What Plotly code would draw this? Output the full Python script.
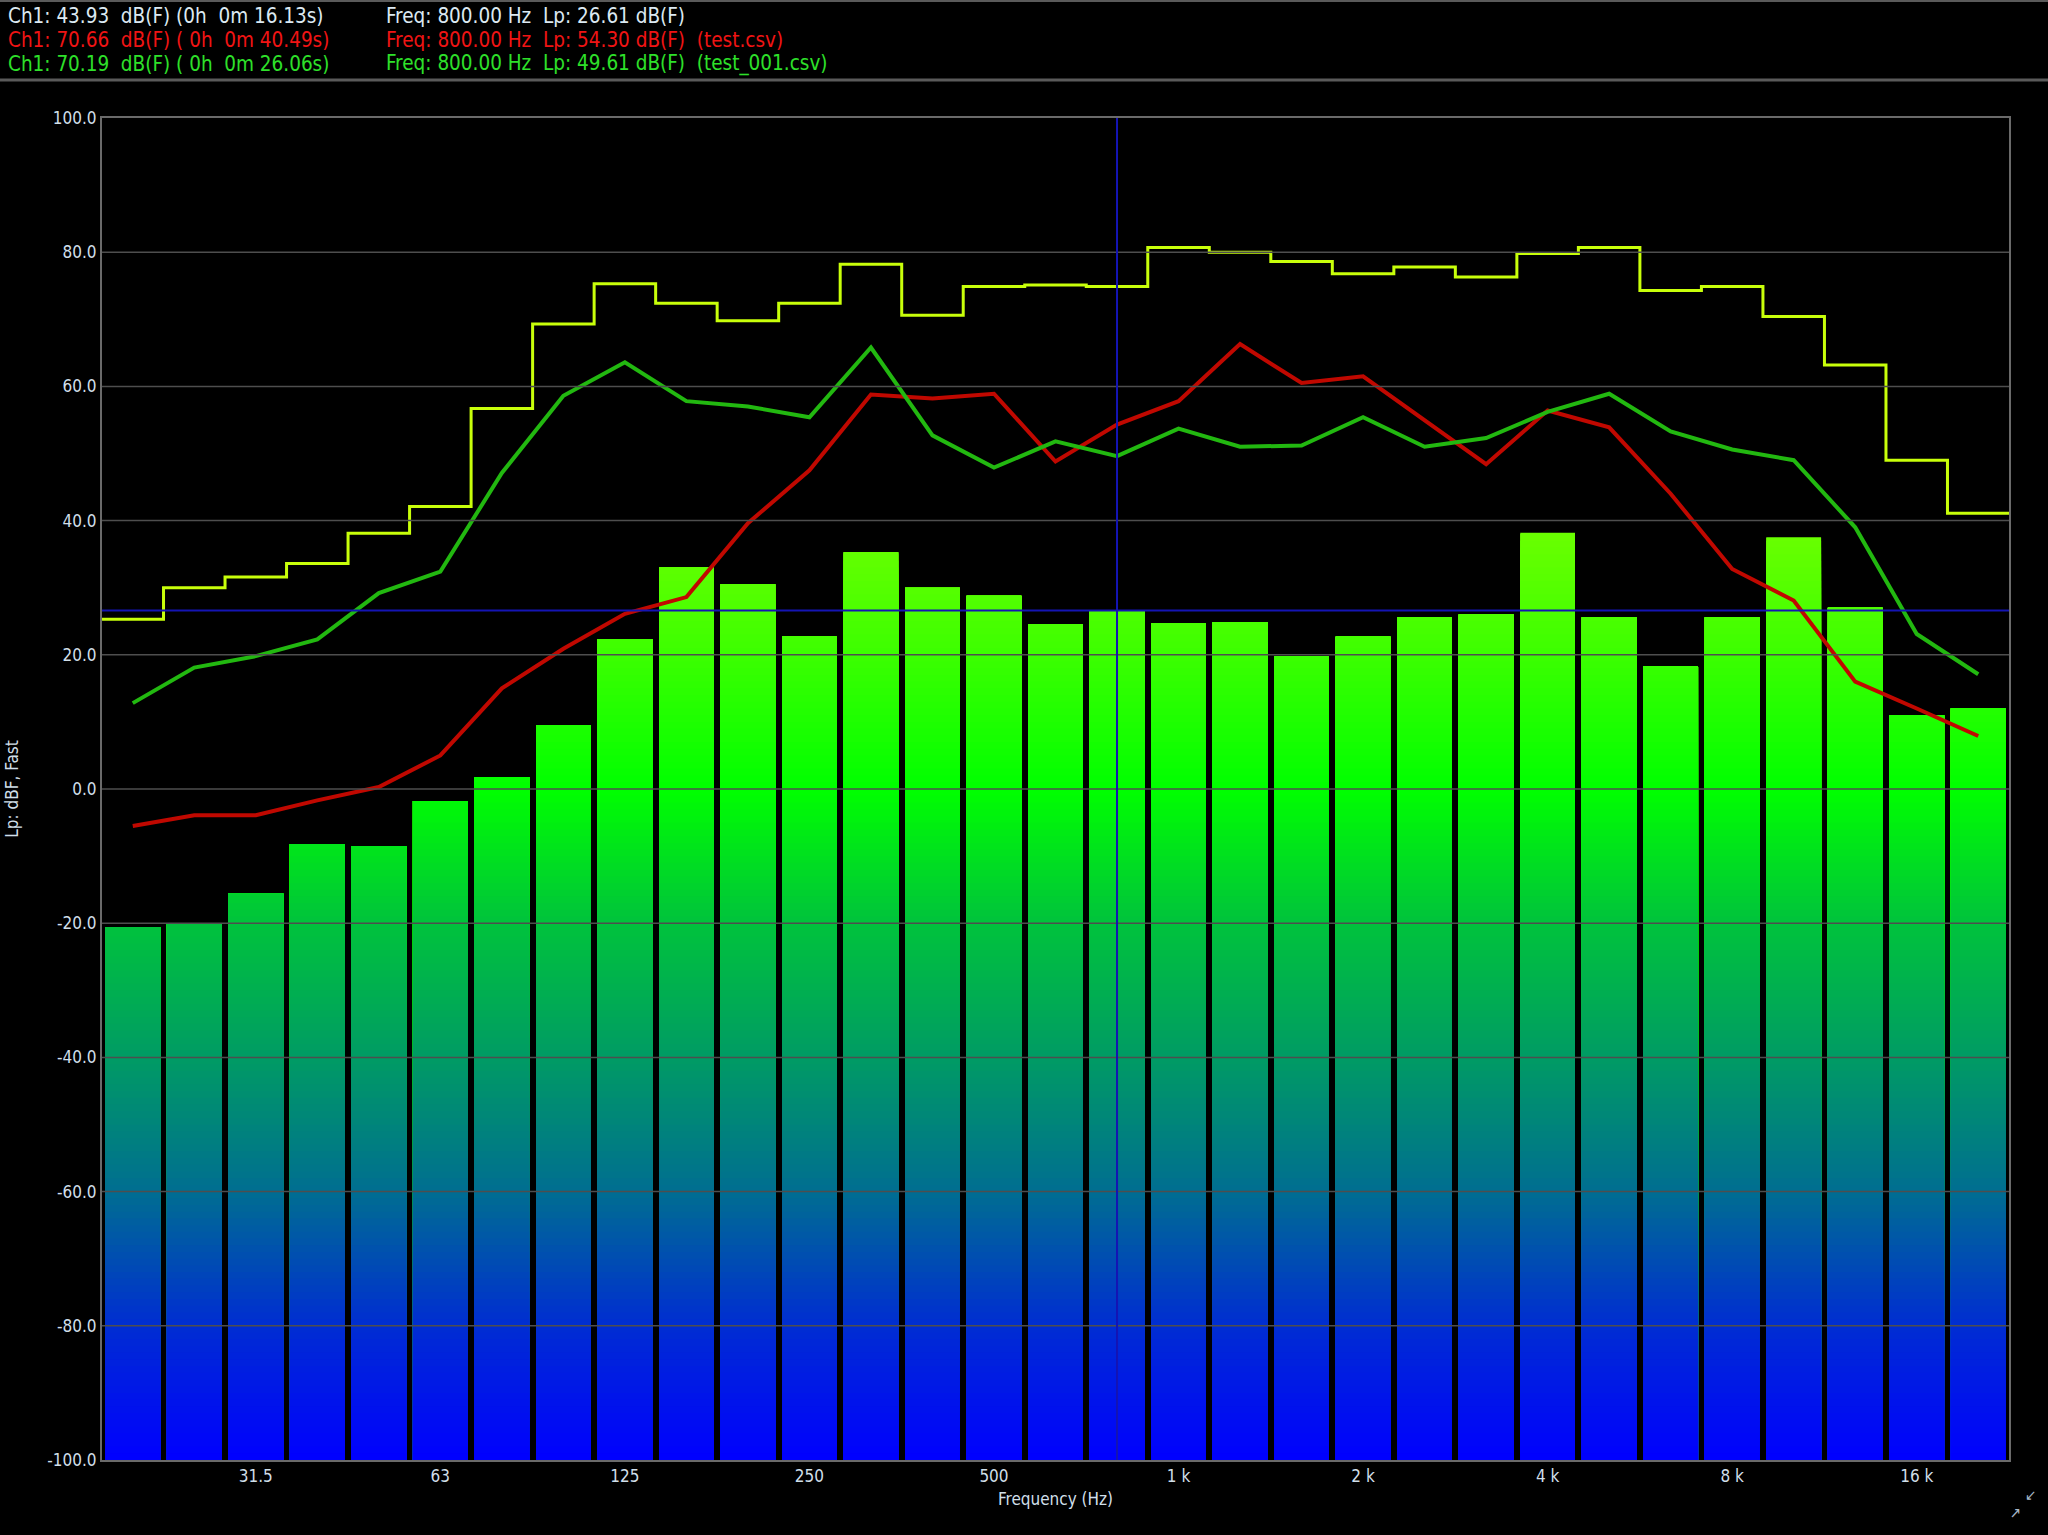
import plotly.graph_objects as go
from plotly.colors import sample_colorscale

# Bandas de tercio de octava (Hz)
bandas = [20, 25, 31.5, 40, 50, 63, 80, 100, 125, 160, 200, 250, 315, 400, 500, 630,
          800, 1000, 1250, 1600, 2000, 2500, 3150, 4000, 5000, 6300, 8000, 10000,
          12500, 16000, 20000]

# Nivel actual Lp dB(F) (barras)
nivel_actual = [-20.6, -20.1, -15.6, -8.2, -8.5, -1.8, 1.8, 9.5, 22.3, 33.0, 30.5, 22.7,
                35.3, 30.0, 28.8, 24.6, 26.61, 24.7, 24.9, 19.8, 22.7, 25.6, 26.0, 38.2,
                25.6, 18.3, 25.6, 37.5, 27.0, 11.0, 12.0]

# Máximos (línea amarilla en escalones)
maximos = [25.3, 30.0, 31.6, 33.6, 38.1, 42.1, 56.7, 69.3, 75.3, 72.4, 69.8, 72.4, 78.2,
           70.6, 74.9, 75.1, 74.9, 80.7, 80.0, 78.6, 76.8, 77.8, 76.3, 79.8, 80.7, 74.3,
           74.9, 70.4, 63.2, 49.0, 41.1]

# test.csv (rojo)
test = [-5.5, -3.9, -3.9, -1.7, 0.3, 5.0, 15.0, 20.9, 26.1, 28.6, 39.6, 47.5, 58.8, 58.2,
        58.9, 48.8, 54.30, 57.8, 66.3, 60.5, 61.5, 54.9, 48.4, 56.4, 53.9, 44.0, 32.8, 28.1,
        16.0, 12.0, 7.9]

# test_001.csv (verde)
test_001 = [12.8, 18.1, 19.8, 22.3, 29.2, 32.4, 47.1, 58.6, 63.6, 57.8, 57.0, 55.4, 65.8,
            52.7, 47.9, 51.8, 49.61, 53.7, 51.0, 51.2, 55.4, 51.0, 52.3, 56.2, 58.9, 53.3,
            50.6, 49.0, 39.0, 23.1, 17.1]

# Cursor
cursor_freq = 800
cursor_lp = 26.61

# Cabecera
cabecera = [
    ("Ch1: 43.93  dB(F) (0h  0m 16.13s)", "Freq: 800.00 Hz  Lp: 26.61 dB(F)", "#dce9f2"),
    ("Ch1: 70.66  dB(F) ( 0h  0m 40.49s)", "Freq: 800.00 Hz  Lp: 54.30 dB(F)  (test.csv)", "#f01414"),
    ("Ch1: 70.19  dB(F) ( 0h  0m 26.06s)", "Freq: 800.00 Hz  Lp: 49.61 dB(F)  (test_001.csv)", "#2ee02a"),
]

W, H = 2048, 1535
L, R, T, B = 102, 39, 118, 75
PW, PH = W - L - R, H - T - B
FUENTE = "Liberation Sans Narrow, DejaVu Sans Condensed, Liberation Sans, sans-serif"
Y_MIN, Y_MAX = -100, 100

# Escala de color de las barras según el nivel
escala = [
    [0.0, "rgb(0,0,255)"],
    [0.2 / 1.4, "rgb(0,45,210)"],
    [0.4 / 1.4, "rgb(0,110,145)"],
    [0.6 / 1.4, "rgb(0,155,100)"],
    [0.8 / 1.4, "rgb(0,195,60)"],
    [1.0 / 1.4, "rgb(0,255,0)"],
    [1.2 / 1.4, "rgb(60,255,0)"],
    [1.0, "rgb(110,255,0)"],
]


def px_x(px):
    return (px - L) / PW


def px_y(py):
    return 1 - (py - T) / PH


def formato_freq(f):
    return f"{f / 1000:g} k" if f >= 1000 else f"{f:g}"


idx = list(range(len(bandas)))
fig = go.Figure()

# Barras con degradado: se superponen barras cada vez más bajas
tope = int(max(nivel_actual)) + 1
for nivel in range(tope, Y_MIN, -1):
    color = sample_colorscale(escala, [(nivel - 0.5 - Y_MIN) / 140])[0]
    fig.add_trace(go.Bar(
        x=idx,
        y=[max(min(v, nivel) - Y_MIN, 0) for v in nivel_actual],
        base=Y_MIN,
        marker=dict(color=color, line=dict(width=0)),
        hoverinfo="skip",
        showlegend=False,
    ))

# Máximos en escalones (bordes de banda)
fig.add_trace(go.Scatter(
    x=[i - 0.5 for i in idx] + [idx[-1] + 0.5],
    y=maximos + [maximos[-1]],
    mode="lines", line=dict(color="#c8ff0a", width=3, shape="hv"),
    showlegend=False, name="Max",
))
fig.add_trace(go.Scatter(
    x=idx, y=test, mode="lines", line=dict(color="#c00800", width=4),
    showlegend=False, name="test.csv",
))
fig.add_trace(go.Scatter(
    x=idx, y=test_001, mode="lines", line=dict(color="#22b810", width=4),
    showlegend=False, name="test_001.csv",
))

formas = []
# Rejilla horizontal por encima de las barras
for v in range(Y_MIN + 20, Y_MAX, 20):
    formas.append(dict(type="line", xref="paper", x0=0, x1=1, yref="y", y0=v, y1=v,
                       line=dict(color="#4e4e4e", width=1.5), layer="above"))
# Cursor
xc = bandas.index(cursor_freq)
formas.append(dict(type="line", xref="x", x0=xc, x1=xc, yref="paper", y0=0, y1=1,
                   line=dict(color="#1414b4", width=2), layer="above"))
formas.append(dict(type="line", xref="paper", x0=0, x1=1, yref="y", y0=cursor_lp, y1=cursor_lp,
                   line=dict(color="#1414b4", width=2), layer="above"))
# Separadores de la cabecera
for py, grosor in [(1, 2), (80, 3)]:
    formas.append(dict(type="line", xref="paper", x0=px_x(0), x1=px_x(W), yref="paper",
                       y0=px_y(py), y1=px_y(py), line=dict(color="#5a5a5a", width=grosor)))

anotaciones = []
for n, (izq, der, color) in enumerate(cabecera):
    for px, texto in [(6, izq), (384, der)]:
        anotaciones.append(dict(
            text=texto.replace(" ", "\u00a0"), xref="paper", yref="paper",
            x=px_x(px), y=px_y(16 + 24 * n), xanchor="left", yanchor="middle",
            showarrow=False, font=dict(family=FUENTE, size=20.5, color=color),
        ))
# Icono de esquina
anotaciones.append(dict(text="↙", xref="paper", yref="paper", x=px_x(2038), y=px_y(1506),
                        showarrow=False, font=dict(family=FUENTE, size=15, color="#a8b8c8")))
anotaciones.append(dict(text="↗", xref="paper", yref="paper", x=px_x(2023), y=px_y(1524),
                        showarrow=False, font=dict(family=FUENTE, size=15, color="#a8b8c8")))

ticks_x = idx[2::3]
fig.update_layout(
    width=W, height=H,
    margin=dict(l=L, r=R, t=T, b=B),
    paper_bgcolor="black", plot_bgcolor="black",
    barmode="overlay", bargap=0.11,
    font=dict(family=FUENTE, size=17, color="#d0dfe9"),
    shapes=formas, annotations=anotaciones,
    xaxis=dict(
        range=[-0.5, len(bandas) - 0.5], tickvals=ticks_x,
        ticktext=[formato_freq(bandas[i]) for i in ticks_x],
        showgrid=False, zeroline=False, ticks="",
        showline=True, mirror=True, linecolor="#6a6a6a", linewidth=2,
        title=dict(text="Frequency (Hz)", standoff=8, font=dict(size=17)),
        tickfont=dict(size=17),
    ),
    yaxis=dict(
        range=[Y_MIN, Y_MAX], tickvals=list(range(Y_MIN, Y_MAX + 1, 20)),
        ticktext=[f"{v:.1f}" for v in range(Y_MIN, Y_MAX + 1, 20)],
        showgrid=False, zeroline=False, ticks="",
        showline=True, mirror=True, linecolor="#6a6a6a", linewidth=2,
        title=dict(text="Lp: dBF, Fast", standoff=24, font=dict(size=17)),
        tickfont=dict(size=17),
    ),
)

fig.write_html("out.html", config={"displayModeBar": False},
               post_script="document.body.style.margin='0';"
                           "document.body.style.overflow='hidden';")
